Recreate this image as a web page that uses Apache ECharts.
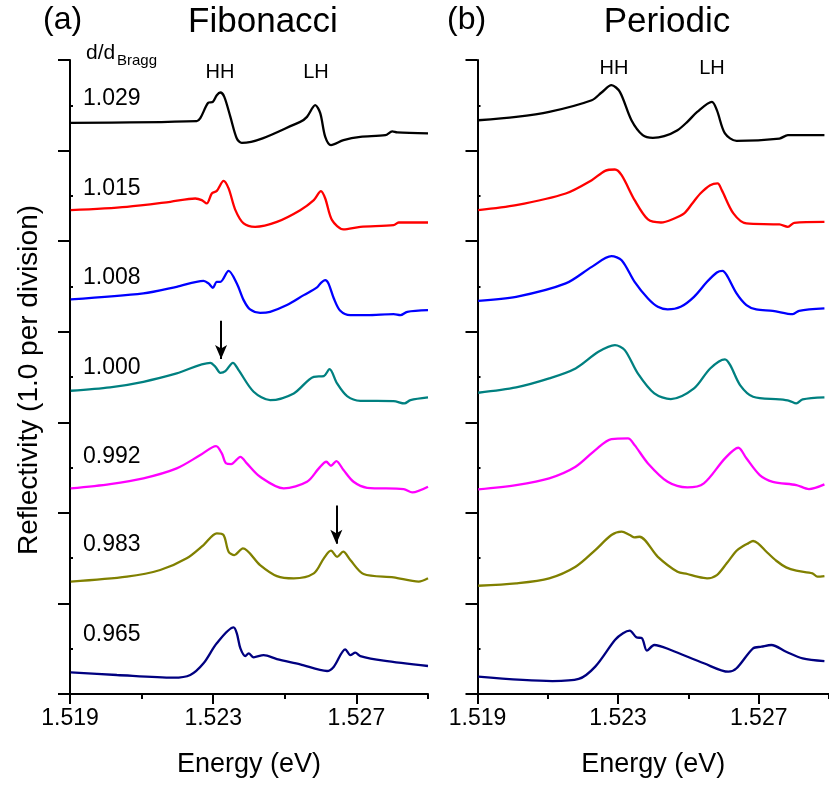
<!DOCTYPE html>
<html><head><meta charset="utf-8">
<script src="https://cdn.jsdelivr.net/npm/echarts@6/dist/echarts.min.js"></script>
<style>html,body{margin:0;padding:0;background:#fff}#c{width:829px;height:787px}</style>
</head><body><div id="c"></div>
<script>
// ---- data (energy in eV, reflectivity offset in divisions) ----
const ratioLabels = ['1.029','1.015','1.008','1.000','0.992','0.983','0.965'];
const curveColors = ['#000000','#ff0000','#0000ff','#008080','#ff00ff','#808000','#000080'];
const xMajorTicks = [1.519,1.523,1.527];
const xMinorTicks = [1.521,1.525,1.529];

const fib1029 = [[1.51902,6.306],[1.52254,6.325],[1.52264,6.358],[1.52286,6.527],[1.52299,6.538],[1.52310,6.611],[1.52320,6.641],[1.52331,6.593],[1.52348,6.372],[1.52366,6.133],[1.52380,6.085],[1.52543,6.317],[1.52562,6.372],[1.52585,6.501],[1.52599,6.413],[1.52613,6.151],[1.52629,6.060],[1.52664,6.115],[1.52711,6.151],[1.52781,6.170],[1.52800,6.211],[1.52814,6.200],[1.52900,6.189]];
const fib1015 = [[1.51902,5.342],[1.52059,5.379],[1.52180,5.434],[1.52250,5.471],[1.52268,5.453],[1.52282,5.416],[1.52296,5.526],[1.52310,5.555],[1.52329,5.666],[1.52343,5.582],[1.52362,5.342],[1.52385,5.195],[1.52417,5.158],[1.52478,5.213],[1.52543,5.342],[1.52581,5.453],[1.52601,5.552],[1.52613,5.471],[1.52632,5.232],[1.52664,5.129],[1.52711,5.158],[1.52804,5.177],[1.52818,5.206],[1.52900,5.206]];
const fib1008 = [[1.51902,4.357],[1.52105,4.423],[1.52198,4.496],[1.52273,4.562],[1.52287,4.533],[1.52299,4.485],[1.52310,4.551],[1.52320,4.551],[1.52343,4.672],[1.52366,4.533],[1.52385,4.349],[1.52403,4.246],[1.52431,4.209],[1.52459,4.220],[1.52506,4.294],[1.52553,4.404],[1.52590,4.489],[1.52601,4.540],[1.52613,4.570],[1.52622,4.533],[1.52637,4.367],[1.52655,4.231],[1.52683,4.183],[1.52730,4.183],[1.52804,4.194],[1.52823,4.183],[1.52842,4.220],[1.52900,4.238]];
const fib1000 = [[1.51902,3.348],[1.52012,3.385],[1.52105,3.447],[1.52198,3.539],[1.52292,3.657],[1.52306,3.613],[1.52320,3.546],[1.52334,3.565],[1.52355,3.657],[1.52371,3.576],[1.52413,3.337],[1.52459,3.245],[1.52525,3.319],[1.52581,3.502],[1.52609,3.510],[1.52625,3.587],[1.52646,3.429],[1.52674,3.289],[1.52711,3.237],[1.52804,3.234],[1.52834,3.208],[1.52851,3.245],[1.52900,3.275]];
const fib0992 = [[1.51902,2.270],[1.52012,2.318],[1.52105,2.381],[1.52198,2.491],[1.52264,2.638],[1.52308,2.737],[1.52324,2.657],[1.52336,2.546],[1.52350,2.539],[1.52376,2.619],[1.52394,2.546],[1.52431,2.398],[1.52497,2.270],[1.52562,2.343],[1.52595,2.491],[1.52616,2.564],[1.52629,2.520],[1.52644,2.572],[1.52664,2.472],[1.52692,2.343],[1.52730,2.277],[1.52832,2.263],[1.52856,2.226],[1.52900,2.288]];
const fib0983 = [[1.51902,1.240],[1.52059,1.295],[1.52152,1.369],[1.52226,1.498],[1.52273,1.645],[1.52310,1.774],[1.52329,1.755],[1.52343,1.571],[1.52359,1.534],[1.52383,1.608],[1.52431,1.424],[1.52478,1.302],[1.52525,1.277],[1.52581,1.332],[1.52609,1.498],[1.52629,1.582],[1.52646,1.515],[1.52663,1.571],[1.52683,1.479],[1.52720,1.325],[1.52804,1.288],[1.52874,1.240],[1.52900,1.277]];
const fib0965 = [[1.51902,0.239],[1.52031,0.210],[1.52189,0.180],[1.52236,0.210],[1.52273,0.339],[1.52310,0.560],[1.52357,0.736],[1.52366,0.670],[1.52376,0.504],[1.52390,0.419],[1.52399,0.449],[1.52413,0.405],[1.52441,0.430],[1.52478,0.386],[1.52543,0.328],[1.52618,0.254],[1.52637,0.302],[1.52669,0.493],[1.52683,0.430],[1.52697,0.456],[1.52711,0.419],[1.52776,0.368],[1.52900,0.309]];

const per1029 = [[1.51902,6.335],[1.52010,6.372],[1.52104,6.427],[1.52225,6.556],[1.52253,6.641],[1.52281,6.722],[1.52305,6.648],[1.52338,6.335],[1.52370,6.170],[1.52399,6.140],[1.52431,6.159],[1.52469,6.225],[1.52497,6.317],[1.52525,6.427],[1.52567,6.538],[1.52581,6.446],[1.52604,6.189],[1.52637,6.107],[1.52759,6.133],[1.52783,6.170],[1.52887,6.170]];
const per1015 = [[1.51902,5.342],[1.52010,5.397],[1.52151,5.526],[1.52225,5.673],[1.52263,5.776],[1.52291,5.791],[1.52310,5.728],[1.52347,5.453],[1.52385,5.239],[1.52422,5.206],[1.52460,5.250],[1.52488,5.306],[1.52511,5.416],[1.52534,5.526],[1.52562,5.618],[1.52583,5.637],[1.52595,5.563],[1.52628,5.306],[1.52665,5.195],[1.52759,5.184],[1.52783,5.158],[1.52801,5.202],[1.52887,5.213]];
const per1008 = [[1.51902,4.341],[1.52010,4.385],[1.52151,4.533],[1.52225,4.716],[1.52281,4.834],[1.52310,4.790],[1.52347,4.551],[1.52385,4.367],[1.52413,4.275],[1.52441,4.246],[1.52478,4.275],[1.52516,4.385],[1.52553,4.551],[1.52581,4.654],[1.52597,4.672],[1.52609,4.625],[1.52637,4.423],[1.52665,4.294],[1.52693,4.246],[1.52740,4.231],[1.52797,4.194],[1.52815,4.231],[1.52887,4.257]];
const per1000 = [[1.51902,3.326],[1.52010,3.385],[1.52104,3.484],[1.52179,3.594],[1.52244,3.778],[1.52291,3.852],[1.52319,3.797],[1.52356,3.540],[1.52403,3.319],[1.52450,3.256],[1.52516,3.374],[1.52562,3.594],[1.52604,3.694],[1.52619,3.631],[1.52647,3.411],[1.52684,3.282],[1.52759,3.253],[1.52787,3.237],[1.52807,3.208],[1.52825,3.253],[1.52887,3.275]];
const per0992 = [[1.51902,2.259],[1.52010,2.307],[1.52104,2.381],[1.52179,2.509],[1.52235,2.693],[1.52281,2.815],[1.52328,2.822],[1.52347,2.748],[1.52385,2.546],[1.52441,2.343],[1.52497,2.281],[1.52544,2.326],[1.52604,2.602],[1.52642,2.719],[1.52665,2.602],[1.52703,2.417],[1.52740,2.343],[1.52807,2.307],[1.52843,2.263],[1.52887,2.315]];
const per0983 = [[1.51902,1.195],[1.52010,1.222],[1.52104,1.277],[1.52179,1.405],[1.52235,1.589],[1.52281,1.755],[1.52310,1.792],[1.52333,1.755],[1.52347,1.730],[1.52361,1.736],[1.52413,1.515],[1.52469,1.350],[1.52497,1.325],[1.52525,1.295],[1.52553,1.277],[1.52581,1.313],[1.52609,1.443],[1.52637,1.582],[1.52656,1.634],[1.52670,1.663],[1.52684,1.689],[1.52698,1.663],[1.52722,1.571],[1.52750,1.471],[1.52778,1.398],[1.52807,1.361],[1.52853,1.332],[1.52867,1.295],[1.52887,1.302]];
const per0965 = [[1.51902,0.191],[1.52113,0.143],[1.52188,0.166],[1.52235,0.302],[1.52291,0.596],[1.52314,0.670],[1.52333,0.699],[1.52352,0.626],[1.52368,0.615],[1.52382,0.478],[1.52403,0.541],[1.52450,0.486],[1.52544,0.339],[1.52614,0.246],[1.52637,0.284],[1.52684,0.504],[1.52708,0.522],[1.52736,0.541],[1.52778,0.467],[1.52825,0.394],[1.52887,0.364]];

// arrows: [energy, start value, tip value]
const arrowA = [1.52322, 4.12, 3.70];
const arrowB = [1.52644, 2.08, 1.66];

const fibCurves = [fib1029, fib1015, fib1008, fib1000, fib0992, fib0983, fib0965];
const perCurves = [per1029, per1015, per1008, per1000, per0992, per0983, per0965];

// ---- chart ----
const FONT = 'Liberation Sans, Arial, Helvetica, sans-serif';
const chart = echarts.init(document.getElementById('c'), null, {renderer:'canvas'});

function mainX(gi){
  return {gridIndex:gi, type:'value', min:1.519, max:1.529, position:'bottom',
    axisLine:{onZero:false, lineStyle:{color:'#000', width:2}},
    axisTick:{customValues:xMajorTicks, length:10, lineStyle:{color:'#000', width:2}},
    axisLabel:{customValues:xMajorTicks, formatter:v=>v.toFixed(3), fontSize:23, color:'#000', margin:13, fontFamily:FONT},
    splitLine:{show:false},
    name:'Energy (eV)', nameLocation:'middle', nameGap:57,
    nameTextStyle:{fontSize:27, color:'#000', fontFamily:FONT}};
}
function minorX(gi){
  return {gridIndex:gi, type:'value', min:1.519, max:1.529, position:'bottom',
    axisLine:{show:false, onZero:false},
    axisTick:{customValues:xMinorTicks, length:5, lineStyle:{color:'#000', width:2}},
    axisLabel:{show:false}, splitLine:{show:false}};
}
function mainY(gi){
  return {gridIndex:gi, type:'value', min:0, max:7, interval:1, position:'left',
    axisLine:{onZero:false, lineStyle:{color:'#000', width:2}},
    axisTick:{length:12, lineStyle:{color:'#000', width:2}},
    axisLabel:{show:false}, splitLine:{show:false}};
}
function minorY(gi){
  return {gridIndex:gi, type:'value', min:0, max:7, position:'left',
    axisLine:{show:false, onZero:false},
    axisTick:{inside:true, customValues:[0.5,1.5,2.5,3.5,4.5,5.5,6.5], length:3, lineStyle:{color:'#000', width:2}},
    axisLabel:{show:false}, splitLine:{show:false}};
}

const series = [];
fibCurves.forEach((d,i)=>{
  series.push({type:'line', xAxisIndex:0, yAxisIndex:0, data:d, showSymbol:false, smooth:0.3,
    lineStyle:{color:curveColors[i], width:2.3}, itemStyle:{color:curveColors[i]}, silent:true, z:3});
});
perCurves.forEach((d,i)=>{
  series.push({type:'line', xAxisIndex:2, yAxisIndex:2, data:d, showSymbol:false, smooth:0.3,
    lineStyle:{color:curveColors[i], width:2.3}, itemStyle:{color:curveColors[i]}, silent:true, z:3});
});
// arrows as markLines on panel (a)
series.push({type:'line', xAxisIndex:0, yAxisIndex:0, data:[], silent:true,
  markLine:{silent:true, symbol:['none','arrow'], symbolSize:[9,14], animation:false,
    lineStyle:{color:'#000', width:2, type:'solid'}, label:{show:false},
    data:[
      [{coord:[arrowA[0],arrowA[1]]},{coord:[arrowA[0],arrowA[2]]}],
      [{coord:[arrowB[0],arrowB[1]]},{coord:[arrowB[0],arrowB[2]]}]
    ]}});

const labelYs = [99,189,278,368,457,545,635];
const graphic = [
  {type:'text', left:43, top:4, style:{text:'(a)', font:'32px '+FONT, fill:'#000'}},
  {type:'text', x:263, y:22, style:{text:'Fibonacci', font:'35px '+FONT, fill:'#000', align:'center', verticalAlign:'middle'}},
  {type:'text', left:447, top:4, style:{text:'(b)', font:'32px '+FONT, fill:'#000'}},
  {type:'text', x:667, y:22, style:{text:'Periodic', font:'35px '+FONT, fill:'#000', align:'center', verticalAlign:'middle'}},
  {type:'text', x:86, y:53, style:{text:'d/d', font:'21px '+FONT, fill:'#000', verticalAlign:'middle'}},
  {type:'text', x:117, y:61, style:{text:'Bragg', font:'15px '+FONT, fill:'#000', verticalAlign:'middle'}},
  {type:'text', x:220, y:72, style:{text:'HH', font:'20px '+FONT, fill:'#000', align:'center', verticalAlign:'middle'}},
  {type:'text', x:316, y:72, style:{text:'LH', font:'20px '+FONT, fill:'#000', align:'center', verticalAlign:'middle'}},
  {type:'text', x:614, y:68, style:{text:'HH', font:'20px '+FONT, fill:'#000', align:'center', verticalAlign:'middle'}},
  {type:'text', x:712, y:68, style:{text:'LH', font:'20px '+FONT, fill:'#000', align:'center', verticalAlign:'middle'}},
  {type:'text', x:29, y:380, rotation:Math.PI/2, style:{text:'Reflectivity (1.0 per division)', font:'28px '+FONT, fill:'#000', align:'center', verticalAlign:'middle'}}
];
ratioLabels.forEach((t,i)=>{
  graphic.push({type:'text', x:83, y:labelYs[i], style:{text:t, font:'23px '+FONT, fill:'#000', verticalAlign:'middle'}});
});

chart.setOption({
  animation:false,
  backgroundColor:'#fff',
  grid:[
    {left:70, top:60, width:358, height:634},
    {left:477.5, top:60, width:356, height:634}
  ],
  xAxis:[mainX(0), minorX(0), mainX(1), minorX(1)],
  yAxis:[mainY(0), minorY(0), mainY(1), minorY(1)],
  series: series,
  graphic: graphic
});
</script></body></html>
